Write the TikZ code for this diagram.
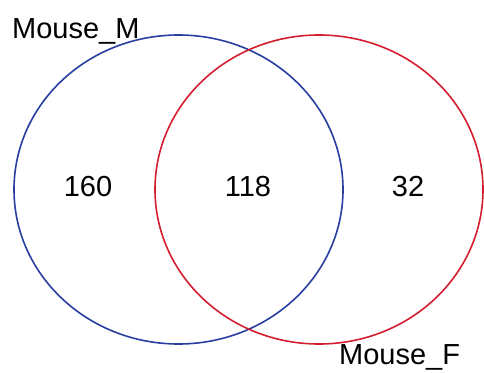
\documentclass[tikz,border=0pt]{standalone}
\usepackage{fontspec}
\setmainfont{Liberation Sans}
\definecolor{vblue}{RGB}{40,62,160}
\definecolor{vred}{RGB}{212,30,48}
\begin{document}
\begin{tikzpicture}[x=1pt,y=-1pt,
  setline/.style={line width=1.6pt},
  num/.style={font=\fontsize{29}{29}\selectfont, inner sep=0pt},
  lab/.style={font=\fontsize{29}{29}\selectfont, inner sep=0pt, anchor=base west}]
\useasboundingbox (0,0) rectangle (484,372);
\draw[setline, vblue] (178.5,189.5) ellipse [x radius=164.5, y radius=154.5];
\draw[setline, vred] (319,189.5) ellipse [x radius=164, y radius=154.5];
\node[num] (a) at (88,187) {160};
\node[num] (ab) at (248,187) {118};
\node[num] (b) at (408,187) {32};
\node[lab] (la) at (12,38) {Mouse\_M};
\node[lab] (lb) at (339,364) {Mouse\_F};
\end{tikzpicture}
\end{document}
